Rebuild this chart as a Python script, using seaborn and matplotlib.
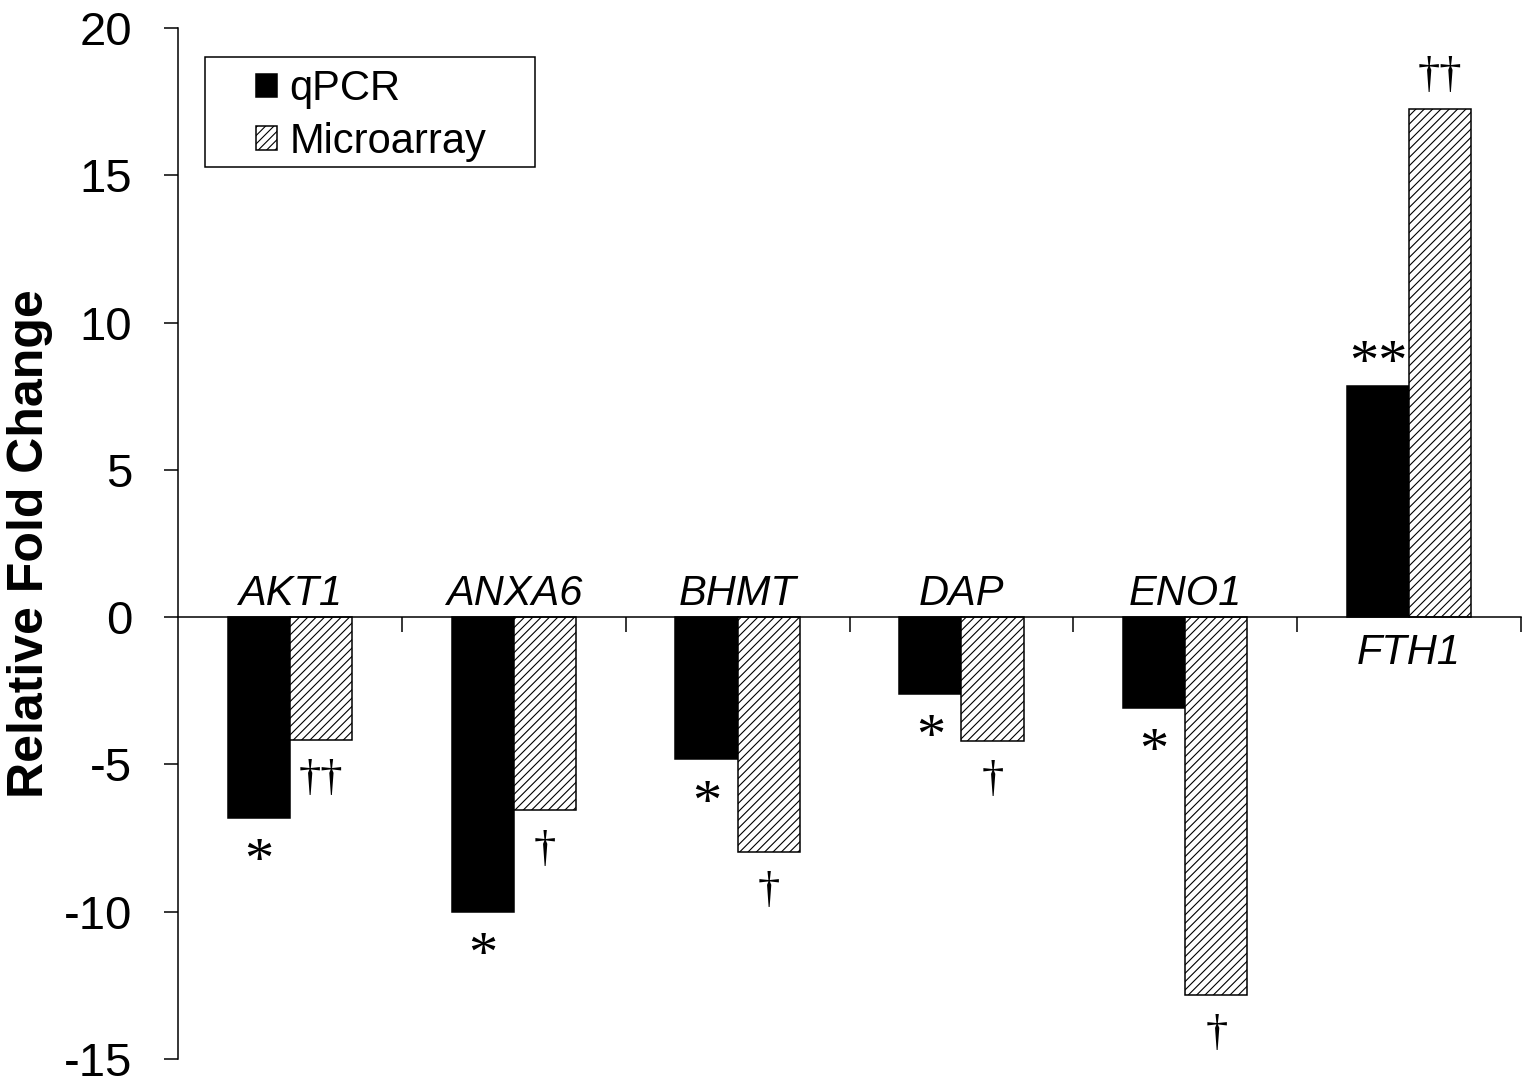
import matplotlib
matplotlib.use('Agg')
import matplotlib.pyplot as plt
from matplotlib.patches import Rectangle
import seaborn as sns
import pandas as pd

# values (relative fold change)
genes = ['AKT1', 'ANXA6', 'BHMT', 'DAP', 'ENO1', 'FTH1']
methods = ['qPCR', 'Microarray']
qpcr_values = [-6.81, -10.0, -4.82, -2.6, -3.07, 7.86]
microarray_values = [-4.16, -6.56, -7.97, -4.19, -12.82, 17.26]
qpcr_marks = ['*', '*', '*', '*', '*', '**']
microarray_marks = ['††', '†', '†', '†', '†', '††']
y_ticks = [-15, -10, -5, 0, 5, 10, 15, 20]

sns.set_theme(style='white')
plt.rcParams['font.family'] = ['Liberation Sans', 'DejaVu Sans']
plt.rcParams['hatch.linewidth'] = 0.8
plt.rcParams['axes.unicode_minus'] = False
for key in ['text.color', 'axes.labelcolor', 'xtick.color', 'ytick.color']:
    plt.rcParams[key] = 'black'

# long table for seaborn
df = pd.DataFrame({
    'gene': genes + genes,
    'fold': qpcr_values + microarray_values,
    'method': [methods[0]] * len(genes) + [methods[1]] * len(genes),
})

fig = plt.figure(figsize=(15.29, 10.85), dpi=100)
ax = fig.add_axes([0.1164, 0.0240, 0.8784, 0.9502])

sns.barplot(data=df, x='gene', y='fold', hue='method', order=genes, hue_order=methods,
            palette=['black', 'white'], saturation=1, edgecolor='black', linewidth=1.1,
            width=0.555, gap=0, errorbar=None, legend=False, ax=ax)

# microarray bars get the diagonal hatch
for bar in ax.containers[1]:
    bar.set_hatch('////')

ax.set_xlim(-0.5, len(genes) - 0.5)
ax.set_ylim(-15, 20)
ax.set_yticks(y_ticks)
ax.tick_params(axis='y', left=True, direction='out', length=10, width=1.1,
               labelsize=34, pad=23)

# x axis sits on zero, ticks mark the group borders
ax.spines['bottom'].set_position(('data', 0))
ax.set_xticks([i + 0.5 for i in range(len(genes))])
ax.set_xticklabels([])
ax.tick_params(axis='x', bottom=True, direction='out', length=11, width=1.1)
for side in ['top', 'right']:
    ax.spines[side].set_visible(False)
for side in ['left', 'bottom']:
    ax.spines[side].set_color('black')
    ax.spines[side].set_linewidth(1.1)

ax.set_xlabel('')
ax.set_ylabel('Relative Fold Change', fontsize=36, fontweight='bold')
ax.yaxis.set_label_coords(-0.093, 0.5)

# gene names: above the zero line for down genes, below for up genes
for i, gene in enumerate(genes):
    if min(qpcr_values[i], microarray_values[i]) < 0:
        ax.text(i, 0.42, gene, ha='center', va='baseline', fontsize=30, style='italic')
    else:
        ax.text(i, -1.6, gene, ha='center', va='baseline', fontsize=30, style='italic')


# significance marks at the end of each bar
def mark_bar(bar, text):
    x = bar.get_x() + bar.get_width() / 2
    end = bar.get_y() + bar.get_height()
    size = 42 if '*' in text else 32
    if bar.get_height() < 0:
        ax.annotate(text, (x, end), xytext=(0, -14), textcoords='offset points',
                    ha='center', va='top', fontsize=size, family='Liberation Serif')
    else:
        off = -4 if '*' in text else 9
        ax.annotate(text, (x, end), xytext=(0, off), textcoords='offset points',
                    ha='center', va='bottom', fontsize=size, family='Liberation Serif')


for bar, txt in zip(ax.containers[0], qpcr_marks):
    mark_bar(bar, txt)
for bar, txt in zip(ax.containers[1], microarray_marks):
    mark_bar(bar, txt)

# legend with a plain square frame
ax.legend(ax.containers[:2], methods, loc='upper left', bbox_to_anchor=(0.058, 0.960),
          frameon=False, fontsize=30, handlelength=0.5, handleheight=0.5,
          handletextpad=0.3, labelspacing=0.3, borderpad=0, borderaxespad=0)
ax.add_patch(Rectangle((0.0201, 0.8656), 0.2457, 0.1064, transform=ax.transAxes,
                       fill=False, edgecolor='black', linewidth=1.1, zorder=5, clip_on=False))

fig.savefig('out.png', dpi=100)
